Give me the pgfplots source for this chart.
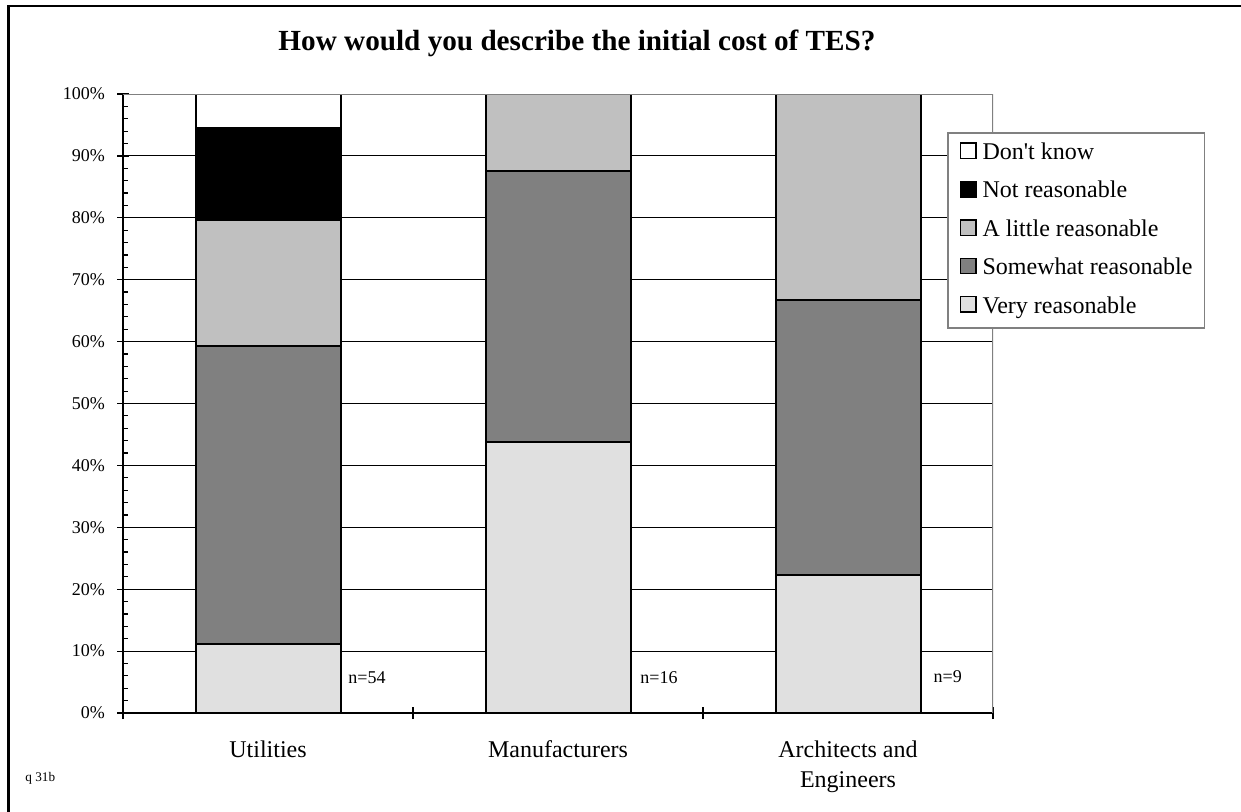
\documentclass[border=0pt]{standalone}
\usepackage{pgfplots}
\pgfplotsset{compat=1.18}
\usepackage{fontspec}
\setmainfont{Liberation Serif}

\definecolor{veryR}{HTML}{E0E0E0}
\definecolor{someR}{HTML}{808080}
\definecolor{littleR}{HTML}{C0C0C0}
\definecolor{notR}{HTML}{000000}
\definecolor{dontK}{HTML}{FFFFFF}
\definecolor{frameGray}{HTML}{808080}

\begin{document}
\begin{tikzpicture}
% page: 620.5pt x 405.5pt
\path[use as bounding box] (0,0) rectangle (620.5pt,-405.5pt);
% outer frame (runs off the right and bottom of the page)
\draw[line width=1.25pt] (4.25pt,-420pt) -- (4.25pt,-3pt) -- (640pt,-3pt);

\node[anchor=base, font=\fontsize{14.6}{17}\selectfont\bfseries] at (288.5pt,-25pt)
  {How would you describe the initial cost of TES?};
\node[anchor=west, inner sep=0pt, font=\fontsize{6.6}{8}\selectfont] at (12.5pt,-389pt) {q 31b};

\begin{axis}[
  at={(61.5pt,-356.5pt)}, anchor=south west,
  scale only axis, width=435pt, height=309.5pt,
  ybar stacked, bar width=0.5,
  xmin=-0.5, xmax=2.5, ymin=0, ymax=100,
  axis x line*=bottom, axis y line*=left,
  axis line style={black, line width=0.6pt},
  tick align=center,
  major tick length=6pt,
  minor tick length=2.5pt,
  tick style={black, line width=0.6pt},
  every minor tick/.append style={xshift=1.25pt},
  xtick={-0.5,0.5,1.5,2.5}, xticklabels={},
  extra x ticks={0,1,2},
  extra x tick labels={Utilities, Manufacturers, {Architects and\\Engineers}},
  extra x tick style={major tick length=0pt,
    xticklabel style={align=center, font=\fontsize{12}{15}\selectfont, yshift=-10.5pt}},
  ytick={0,10,...,90},
  minor ytick={2,4,...,98},
  extra y ticks={100}, extra y tick labels={100\%},
  extra y tick style={grid=none},
  yticklabel={\pgfmathparse{int(round(\tick))}\pgfmathresult\%},
  yticklabel style={font=\fontsize{9}{11}\selectfont, xshift=-2.5pt},
  ymajorgrids,
  major grid style={black, line width=0.5pt},
  reverse legend,
  legend style={at={(rel axis cs:0.9471,0.9386)}, anchor=north west,
    draw=frameGray, line width=0.8pt, fill=white,
    font=\fontsize{12}{14}\selectfont,
    inner xsep=6pt, inner ysep=4.8pt,
    row sep=7.95pt, column sep=3pt,
    nodes={inner sep=0pt, text height=8.5pt, text depth=2.7pt}},
  legend cell align=left,
  legend image code/.code={\draw[#1, draw=black, line width=0.7pt] (0pt,-2.4pt) rectangle (7.7pt,5.3pt);},
  every axis plot/.append style={draw=black, line width=1pt},
]
% grey top and right edges of the plot area
\draw[frameGray, line width=1.2pt] (rel axis cs:0,1) -- (rel axis cs:1,1) -- (rel axis cs:1,0);

\addplot[fill=veryR]   coordinates {(0,11.11) (1,43.75) (2,22.22)};
\addplot[fill=someR]   coordinates {(0,48.15) (1,43.75) (2,44.44)};
\addplot[fill=littleR] coordinates {(0,20.37) (1,12.50) (2,33.34)};
\addplot[fill=notR]    coordinates {(0,14.81)};
\addplot[fill=dontK]   coordinates {(0,5.56)};
\legend{Very reasonable, Somewhat reasonable, A little reasonable, Not reasonable, Don\textquotesingle t know}

\node[anchor=west, inner sep=0pt, font=\fontsize{9}{11}\selectfont] at (axis cs:0.276,5.73) {n=54};
\node[anchor=west, inner sep=0pt, font=\fontsize{9}{11}\selectfont] at (axis cs:1.283,5.73) {n=16};
\node[anchor=west, inner sep=0pt, font=\fontsize{9}{11}\selectfont] at (axis cs:2.294,5.9) {n=9};
\end{axis}
\end{tikzpicture}
\end{document}
